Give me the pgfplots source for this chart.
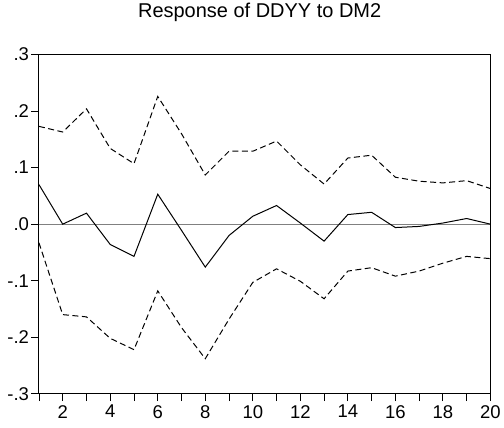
\documentclass[border=0pt]{standalone}
\usepackage{fontspec}
\setmainfont{Liberation Sans}
\usepackage{pgfplots}
\pgfplotsset{compat=1.18}
\begin{document}
\begin{tikzpicture}
\begin{axis}[
  scale only axis,
  width=452pt, height=339.6pt,
  xmin=1, xmax=20, ymin=-0.3, ymax=0.3,
  axis line style={line width=1pt},
  tick align=outside,
  xtick pos=bottom, ytick pos=left,
  xtick={2,4,...,20},
  xticklabels={2,4,6,8,10,12,14,16,18,20},
  minor xtick={1,3,...,19},
  ytick={-0.3,-0.2,-0.1,0,0.1,0.2,0.3},
  yticklabels={-.3,-.2,-.1,.0,.1,.2,.3},
  major tick length=7.5pt, minor tick length=7.5pt,
  every tick/.style={black, line width=0.8pt},
  ticklabel style={font=\fontsize{18.5}{22}\selectfont},
  xticklabel style={yshift=-0.5pt},
  yticklabel style={xshift=1pt},
  title={Response of DDYY to DM2},
  title style={at={(0.5,1)}, anchor=center, yshift=36pt, xshift=-5pt, font=\fontsize{20}{24}\selectfont},
  clip=false,
]
\addplot[gray, line width=0.9pt, forget plot] coordinates {(1,0) (20,0)};
\addplot[black, line width=1pt] coordinates {
(1,0.070) (2,0.000) (3,0.0195) (4,-0.036) (5,-0.057) (6,0.053) (7,-0.011) (8,-0.076) (9,-0.020) (10,0.014)
(11,0.033) (12,0.002) (13,-0.030) (14,0.017) (15,0.021) (16,-0.006) (17,-0.004) (18,0.002) (19,0.010) (20,0.000)};
\addplot[black, line width=1pt, dash pattern=on 6pt off 3.5pt] coordinates {
(1,0.173) (2,0.163) (3,0.204) (4,0.134) (5,0.107) (6,0.226) (7,0.160) (8,0.087) (9,0.129) (10,0.129)
(11,0.147) (12,0.105) (13,0.071) (14,0.117) (15,0.122) (16,0.083) (17,0.076) (18,0.073) (19,0.077) (20,0.063)};
\addplot[black, line width=1pt, dash pattern=on 6pt off 3.5pt] coordinates {
(1,-0.033) (2,-0.160) (3,-0.164) (4,-0.202) (5,-0.222) (6,-0.118) (7,-0.183) (8,-0.238) (9,-0.168) (10,-0.103)
(11,-0.079) (12,-0.101) (13,-0.132) (14,-0.083) (15,-0.077) (16,-0.092) (17,-0.083) (18,-0.069) (19,-0.057) (20,-0.061)};
\end{axis}
\path ([xshift=-39pt,yshift=-33.7pt]current axis.south west) rectangle ([xshift=13pt,yshift=52.7pt]current axis.north east);
\end{tikzpicture}
\end{document}
